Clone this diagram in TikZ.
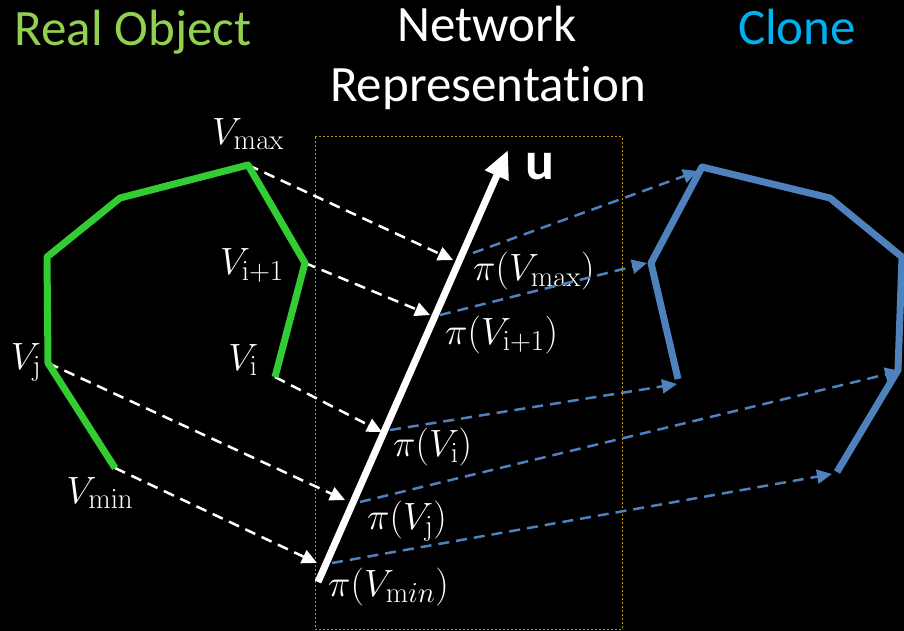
\RequirePackage{fix-cm}
\documentclass[tikz,border=0pt]{standalone}
\usepackage[no-math]{fontspec}
\newfontfamily\calib[Ligatures=NoCommon]{Carlito}
\usetikzlibrary{arrows.meta}
\DeclareMathSizes{38}{38}{29}{22}
\definecolor{objgreen}{HTML}{33CC33}
\definecolor{titlegreen}{HTML}{92D050}
\definecolor{clonetxt}{HTML}{00B0F0}
\definecolor{cloneblue}{HTML}{4F81BD}
\definecolor{boxgold}{HTML}{BF8F00}
\begin{document}
\begin{tikzpicture}[x=1pt,y=-1pt,
  title/.style={font=\calib\fontsize{51}{60}\selectfont, anchor=base, inner sep=0pt},
  mlabel/.style={text=white, font=\fontsize{38}{44}\selectfont, inner sep=0pt},
  objline/.style={draw=objgreen, line width=7pt, line join=round},
  cloneline/.style={draw=cloneblue, line width=7pt, line join=round},
  projarrow/.style={draw=white, line width=2.5pt, dash pattern=on 11pt off 7pt, -{Triangle[length=15pt,width=14pt]}},
  clonearrow/.style={draw=cloneblue, line width=2.5pt, dash pattern=on 11pt off 7pt, -{Triangle[length=15pt,width=14pt]}},
  axisline/.style={draw=white, line width=7pt, -{Triangle[length=28pt,width=24pt]}}
]
\fill[black] (0,0) rectangle (904,631);
\useasboundingbox (0,0) rectangle (904,631);

% titles
\node[title, text=titlegreen] (t1) at (133,46) {Real Object};
\node[title, text=white] (t2) at (487,42) {Network};
\node[title, text=white] (t3) at (488,102) {Representat{\kern0pt}ion};
\node[title, text=clonetxt] (t4) at (797,45) {Clone};

% dotted box
\draw[boxgold, line width=1pt, dash pattern=on 2pt off 2pt] (315,137) rectangle (622,629);

% real object vertices
\coordinate (rmin) at (115,468);
\coordinate (rj) at (48,363);
\coordinate (r3) at (47,257);
\coordinate (r4) at (120,198);
\coordinate (rmax) at (248,165);
\coordinate (rip) at (305,263);
\coordinate (ri) at (275,377);

% clone vertices
\coordinate (ci) at (678,379);
\coordinate (cip) at (651,263);
\coordinate (cmax) at (702,167);
\coordinate (c4) at (830,198);
\coordinate (c3) at (902,257);
\coordinate (cj) at (898,370);
\coordinate (cmin) at (837,472);

% projection arrow ends (left of axis)
\coordinate (amax) at (453,260);
\coordinate (aip) at (430,315);
\coordinate (ai) at (382,432);
\coordinate (aj) at (345,500);
\coordinate (amin) at (317,563);
% projection starts (right of axis)
\coordinate (bmax) at (473,253);
\coordinate (bip) at (440,315);
\coordinate (bi) at (390,430);
\coordinate (bj) at (360,502);
\coordinate (bmin) at (332,563);
% clone arrow tips
\coordinate (emax) at (698,171);
\coordinate (eip) at (647,263);
\coordinate (ei) at (677,384);
\coordinate (ej) at (900,371);
\coordinate (emin) at (832,474);

% axis ends
\coordinate (axb) at (318,582);
\coordinate (axt) at (508,150);

% labels
\node[mlabel] (lmax) at (248,134) {$V_{\mathrm{max}}$};
\node[mlabel] (lip) at (252,265) {$V_{\mathrm{i+1}}$};
\node[mlabel] (li) at (243,360) {$V_{\mathrm{i}}$};
\node[mlabel] (lj) at (26,362) {$V_{\mathrm{j}}$};
\node[mlabel] (lmin) at (100,493) {$V_{\mathrm{min}}$};
\node[mlabel, anchor=west] (pmax) at (473,271) {$\pi(V_{\mathrm{max}})$};
\node[mlabel, anchor=west] (pip) at (445,335) {$\pi(V_{\mathrm{i+1}})$};
\node[mlabel, anchor=west] (pi) at (393,447) {$\pi(V_{\mathrm{i}})$};
\node[mlabel, anchor=west] (pj) at (367,521) {$\pi(V_{\mathrm{j}})$};
\node[mlabel, anchor=west] (pmin) at (328,587) {$\pi(V_{\mathrm{m}in})$};
\node[text=white, font=\calib\bfseries\fontsize{54}{60}\selectfont, inner sep=0pt] (u) at (540,167) {u};

% projection arrows
\draw[projarrow] (rmax) -- (amax);
\draw[projarrow] (rip) -- (aip);
\draw[projarrow] (ri) -- (ai);
\draw[projarrow] (rj) -- (aj);
\draw[projarrow] (rmin) -- (amin);

% clone arrows
\draw[clonearrow] (bmax) -- (emax);
\draw[clonearrow] (bip) -- (eip);
\draw[clonearrow] (bi) -- (ei);
\draw[clonearrow] (bj) -- (ej);
\draw[clonearrow] (bmin) -- (emin);

% shapes
\draw[objline] (rmin) -- (rj) -- (r3) -- (r4) -- (rmax) -- (rip) -- (ri);
\draw[cloneline] (ci) -- (cip) -- (cmax) -- (c4) -- (c3) -- (cj) -- (cmin);

% axis
\draw[axisline] (axb) -- (axt);
\end{tikzpicture}
\end{document}
